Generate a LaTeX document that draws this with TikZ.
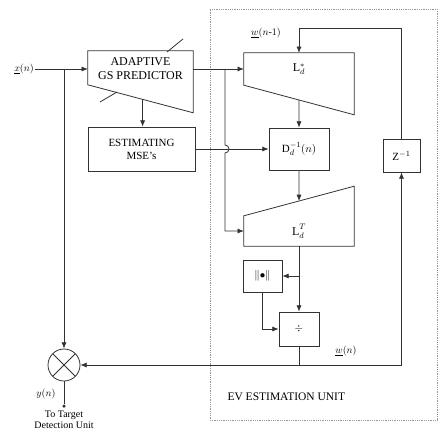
\documentclass[tikz,border=0pt]{standalone}
\usepackage{fontspec}
\setmainfont{Liberation Serif}
\usepackage{amsmath}
\usetikzlibrary{arrows.meta,positioning,calc}
\definecolor{inkgray}{RGB}{50,50,50}
\definecolor{unitgray}{RGB}{150,150,150}
\tikzset{
  % --- Blocks -----------------------------------------------------------------
  blockbox/.style={
    rectangle, draw=inkgray, thick, align=center, inner sep=2pt,
    font=\fontsize{11}{13}\selectfont
  },
  trapbox/.style={
    rectangle, draw=none, align=center, inner sep=0pt,
    font=\fontsize{12}{14}\selectfont
  },
  mixer/.style={
    circle, draw=inkgray, thick, minimum size=32pt, inner sep=0pt,
    path picture={
      \draw[inkgray, thick]
        (path picture bounding box.north west) -- (path picture bounding box.south east)
        (path picture bounding box.north east) -- (path picture bounding box.south west);
    }
  },
  outdot/.style={circle, fill=inkgray, inner sep=0pt, minimum size=3.5pt},
  unitbox/.style={rectangle, draw=unitgray, densely dotted, thick},
  % --- Signals ----------------------------------------------------------------
  siglabel/.style={font=\fontsize{10}{11}\selectfont, inner sep=1pt},
  sigline/.style={draw=inkgray, thick},
  sigarrow/.style={-{Latex[length=2.2mm,width=1.8mm]}, draw=inkgray, thick},
}
\begin{document}
\begin{tikzpicture}[x=1pt, y=-1pt]
  \useasboundingbox (0,0) rectangle (440,446);

  % EV estimation unit
  \node[unitbox, minimum width=227pt, minimum height=411pt] (evunit) at (323.5,214.5) {};
  \node[anchor=west, font=\fontsize{11.5}{13}\selectfont] (evlabel) at (224,397) {EV ESTIMATION UNIT};

  % predictor
  \node[trapbox, minimum width=105pt, minimum height=36pt] (pred) at (140.5,69) {ADAPTIVE\\GS PREDICTOR};
  \coordinate (pred-bl) at ($(pred.north west)+(0,34)$);
  \coordinate (pred-br) at ($(pred.north east)+(0,62)$);
  \draw[sigline] (pred.north west) -- (pred.north east) -- (pred-br) -- (pred-bl) -- cycle;
  \draw[sigline] (167,52) -- (183,39);
  \draw[sigline] (100,102) -- (117,92);
  \coordinate (pred-out) at ($(pred-bl)!0.52!(pred-br)$);

  \node[blockbox, minimum width=107pt, minimum height=44pt] (est) at (141.5,149) {ESTIMATING\\MSE's};

  % L, D^-1, L^T
  \node[trapbox, minimum width=110pt, minimum height=32pt] (lstar) at (299,69) {$\mathrm{L}_d^{*}$};
  \coordinate (lstar-br) at ($(lstar.north east)+(0,62)$);
  \draw[sigline] (lstar.north west) -- (lstar.north east) -- (lstar-br) -- (lstar.south west) -- cycle;
  \coordinate (lstar-out) at ($(lstar.south west)!0.5!(lstar-br)$);

  \node[blockbox, minimum width=60pt, minimum height=42pt] (dinv) at (299,149) {$\mathrm{D}_d^{-1}(n)$};

  \node[trapbox, minimum width=110pt, minimum height=30pt] (ltr) at (299,231) {$\mathrm{L}_{d}^{\raisebox{1.5pt}{$\scriptstyle T$}}$};
  \coordinate (ltr-tr) at ($(ltr.south east)+(0,-60)$);
  \draw[sigline] (ltr.south west) -- (ltr.south east) -- (ltr-tr) -- (ltr.north west) -- cycle;
  \coordinate (ltr-in) at ($(ltr.north west)!0.5!(ltr-tr)$);

  \node[blockbox, minimum width=39pt, minimum height=32pt] (norm) at (262.5,276) {$\|{\bullet}\|$};
  \node[blockbox, minimum width=40pt, minimum height=34pt] (div) at (299,329) {$\div$};
  \node[blockbox, minimum width=37pt, minimum height=33pt] (zinv) at (401.5,155.5) {$\mathrm{Z}^{-1}$};

  % output
  \node[mixer] (mult) at (64,365) {};
  \node[outdot] (yout) at (64,406) {};

  % labels
  \node[siglabel] (xlab) at (24,69) {$\underline{x}(n)$};
  \node[siglabel] (wprevlab) at (266,33) {$\underline{w}(n\text{-}1)$};
  \node[siglabel] (wlab) at (346,351) {$\underline{w}(n)$};
  \node[siglabel] (ylab) at (46,394) {$y(n)$};
  \node[siglabel, align=center, below=2pt of yout] (target) {To Target\\Detection Unit};

  % connectors
  \coordinate (xsplit) at (xlab -| mult);
  \draw[sigarrow] (xlab.east) -- (xlab -| pred.west);
  \draw[sigarrow] (xsplit) -- (mult.north);
  \draw[sigarrow] (pred-out) -- (pred-out |- est.north);
  \coordinate (gssplit) at (225,69);
  \draw[sigarrow] (pred.east) -- (lstar.west);
  \coordinate (hop) at (gssplit |- est.east);
  \draw[sigarrow] (gssplit) -- ($(hop)+(0,-4)$) arc[start angle=-90, end angle=90, radius=4] |- (ltr.west);
  \draw[sigarrow] (est.east) -- (dinv.west);
  \draw[sigarrow] (lstar-out) -- (dinv.north);
  \draw[sigarrow] (dinv.south) -- (ltr-in);
  \coordinate (normsplit) at (ltr.south |- norm.east);
  \draw[sigarrow] (ltr.south) -- (div.north);
  \draw[sigarrow] (normsplit) -- (norm.east);
  \draw[sigarrow] (norm.south) |- (div.west);
  \coordinate (wsplit) at (div.south |- mult.east);
  \draw[sigline] (div.south) -- (wsplit);
  \draw[sigarrow] (wsplit) -- (mult.east);
  \draw[sigarrow] (wsplit) -| (zinv.south);
  \coordinate (fbtop) at (zinv.north |- 0,28);
  \draw[sigarrow] (zinv.north) -- (fbtop) -| (lstar.north);
  \draw[sigline] (mult.south) -- (yout);
\end{tikzpicture}
\end{document}
